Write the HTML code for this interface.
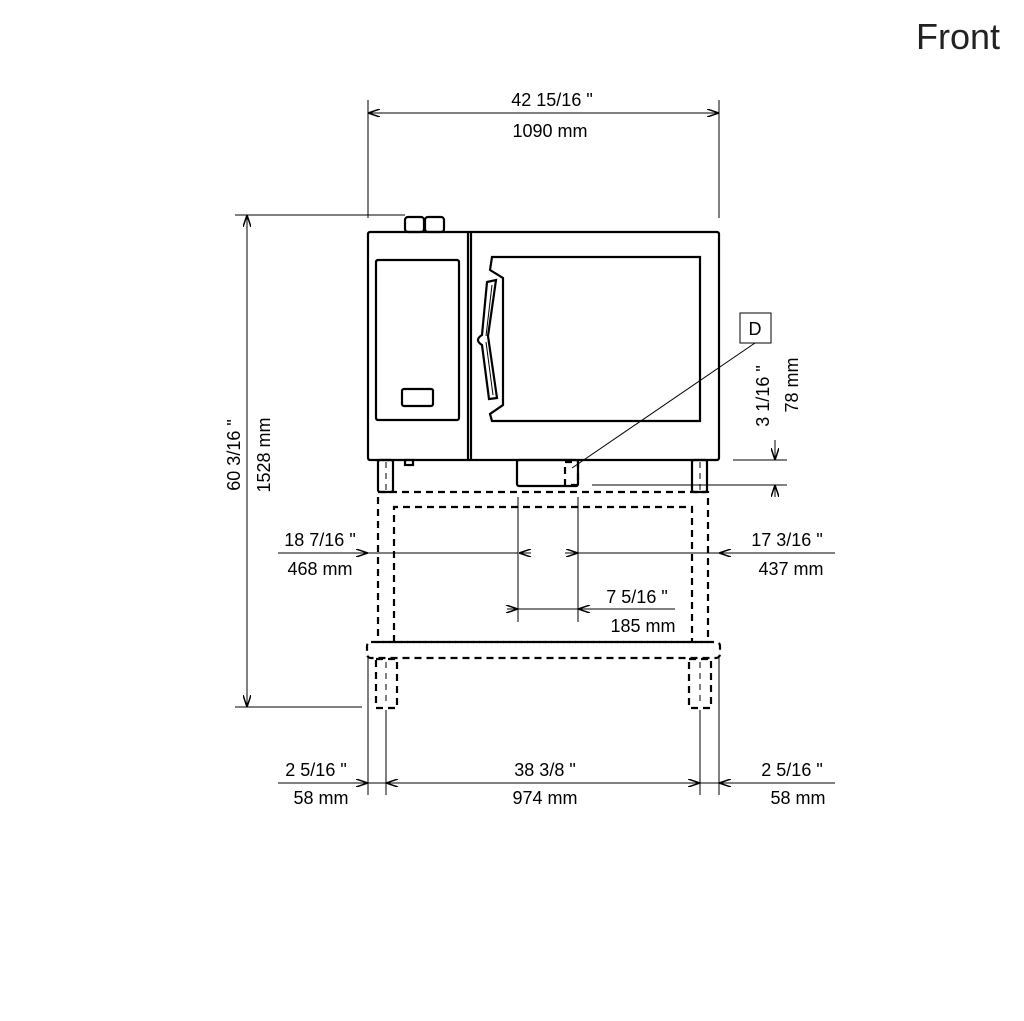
<!DOCTYPE html>
<html><head><meta charset="utf-8"><style>
html,body{margin:0;padding:0;background:#fff;}
svg{display:block}
text{font-family:"Liberation Sans",sans-serif;font-size:18px;fill:#000}
</style></head><body>
<svg width="1024" height="1021" viewBox="0 0 1024 1021" xmlns="http://www.w3.org/2000/svg">
<defs>
<marker id="a" viewBox="0 0 12 8" refX="12" refY="4" markerWidth="12" markerHeight="8" orient="auto-start-reverse" markerUnits="userSpaceOnUse"><path d="M0,0 L12,4 L0,8" fill="none" stroke="#000" stroke-width="1.5"/></marker>
</defs>
<text x="958" y="49" text-anchor="middle" style="font-size:36px;fill:#222">Front</text>
<g stroke="#000" fill="none" stroke-width="1">
<line x1="368" y1="100" x2="368" y2="218"/><line x1="719" y1="100" x2="719" y2="218"/>
<line x1="368" y1="113" x2="719" y2="113" marker-start="url(#a)" marker-end="url(#a)"/>
<line x1="235" y1="215" x2="405" y2="215"/><line x1="235" y1="707" x2="362" y2="707"/>
<line x1="247" y1="215" x2="247" y2="707" marker-start="url(#a)" marker-end="url(#a)"/>
<rect x="740" y="313" width="31" height="30"/>
<line x1="755" y1="343" x2="572" y2="468"/>
<line x1="733" y1="460" x2="787" y2="460"/><line x1="592" y1="485" x2="787" y2="485"/>
<line x1="775" y1="440" x2="775" y2="460" marker-end="url(#a)"/>
<line x1="775" y1="497" x2="775" y2="485" marker-end="url(#a)"/>
<line x1="518" y1="497" x2="518" y2="622"/><line x1="578" y1="497" x2="578" y2="622"/>
<line x1="278" y1="553" x2="368" y2="553" marker-end="url(#a)"/>
<line x1="368" y1="553" x2="518" y2="553"/>
<line x1="531" y1="553" x2="519" y2="553" marker-end="url(#a)"/>
<line x1="565" y1="553" x2="578" y2="553" marker-end="url(#a)"/>
<line x1="578" y1="553" x2="835" y2="553"/>
<line x1="835" y1="553" x2="719" y2="553" marker-end="url(#a)"/>
<line x1="507" y1="609" x2="518" y2="609" marker-end="url(#a)"/>
<line x1="518" y1="609" x2="578" y2="609"/>
<line x1="675" y1="609" x2="578" y2="609" marker-end="url(#a)"/>
<line x1="368" y1="658" x2="368" y2="795"/><line x1="386" y1="710" x2="386" y2="795"/>
<line x1="700" y1="710" x2="700" y2="795"/><line x1="719" y1="658" x2="719" y2="795"/>
<line x1="278" y1="783" x2="368" y2="783" marker-end="url(#a)"/>
<line x1="368" y1="783" x2="386" y2="783"/>
<line x1="386" y1="783" x2="700" y2="783" marker-start="url(#a)" marker-end="url(#a)"/>
<line x1="700" y1="783" x2="719" y2="783"/>
<line x1="835" y1="783" x2="719" y2="783" marker-end="url(#a)"/>
</g>
<g stroke="#000" fill="none" stroke-width="2.2">
<rect x="405" y="217" width="19" height="15" rx="3"/><rect x="425" y="217" width="19" height="15" rx="3"/>
<rect x="368" y="232" width="351" height="228" rx="2"/>
<line x1="468" y1="232" x2="468" y2="460"/><line x1="471" y1="232" x2="471" y2="460"/>
<rect x="376" y="260" width="83" height="160" rx="2"/>
<rect x="402" y="389" width="31" height="17" rx="2"/>
<path d="M492,257 L700,257 L700,421 L492,421 L490,414 L503,405 L503,278 L490,270 Z"/>
<path d="M487,282 L496,280 L488,336 L497,398 L489,399 L482,345 Q474,340 482,335 Z"/>
<line x1="492" y1="285" x2="486" y2="336" stroke-width="1"/>
<line x1="486" y1="342" x2="493" y2="395" stroke-width="1"/>
<rect x="517" y="460" width="61" height="26" rx="2"/>
<rect x="378" y="460" width="15" height="32" rx="2"/>
<rect x="692" y="460" width="15" height="32" rx="2"/>
<rect x="405" y="460" width="8" height="5"/>
</g>
<g stroke="#000" fill="none" stroke-width="2.2" stroke-dasharray="7,5">
<rect x="565" y="462" width="13" height="23"/>
<rect x="378" y="492" width="330" height="150"/>
<path d="M394,642 L394,507 L692,507 L692,642"/>
<rect x="367" y="642" width="353" height="16" rx="4"/>
<rect x="376" y="659" width="21" height="49"/>
<rect x="689" y="659" width="22" height="49"/>
</g>
<g stroke="#000" stroke-width="1" stroke-dasharray="6,5">
<line x1="386" y1="462" x2="386" y2="490"/><line x1="700" y1="462" x2="700" y2="490"/>
<line x1="386" y1="662" x2="386" y2="706"/><line x1="700" y1="662" x2="700" y2="706"/>
</g>
<text x="552" y="106" text-anchor="middle">42 15/16 "</text>
<text x="550" y="137" text-anchor="middle">1090 mm</text>
<text transform="translate(240,455) rotate(-90)" text-anchor="middle">60 3/16 "</text>
<text transform="translate(270,455) rotate(-90)" text-anchor="middle">1528 mm</text>
<text x="755" y="335" text-anchor="middle">D</text>
<text transform="translate(769,396) rotate(-90)" text-anchor="middle">3 1/16 "</text>
<text transform="translate(798,385) rotate(-90)" text-anchor="middle">78 mm</text>
<text x="320" y="546" text-anchor="middle">18 7/16 "</text>
<text x="320" y="575" text-anchor="middle">468 mm</text>
<text x="787" y="546" text-anchor="middle">17 3/16 "</text>
<text x="791" y="575" text-anchor="middle">437 mm</text>
<text x="637" y="603" text-anchor="middle">7 5/16 "</text>
<text x="643" y="632" text-anchor="middle">185 mm</text>
<text x="316" y="776" text-anchor="middle">2 5/16 "</text>
<text x="321" y="804" text-anchor="middle">58 mm</text>
<text x="545" y="776" text-anchor="middle">38 3/8 "</text>
<text x="545" y="804" text-anchor="middle">974 mm</text>
<text x="792" y="776" text-anchor="middle">2 5/16 "</text>
<text x="798" y="804" text-anchor="middle">58 mm</text>
</svg>
</body></html>
